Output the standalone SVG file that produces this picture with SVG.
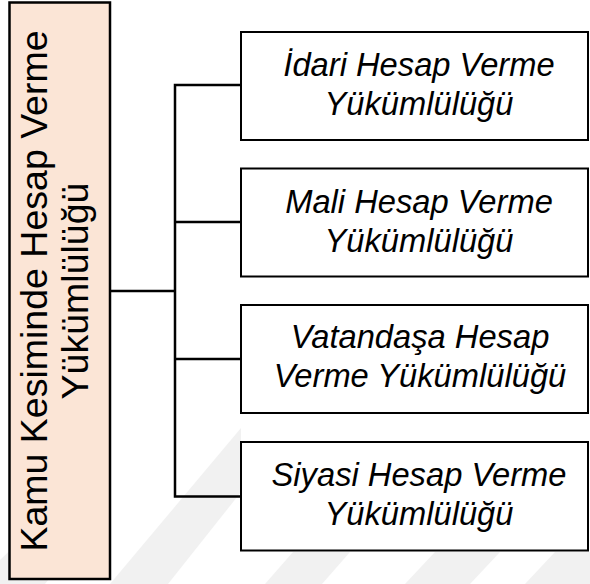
<svg xmlns="http://www.w3.org/2000/svg" width="590" height="584" viewBox="0 0 590 584">
<style>
.wm{fill:#f1f1f1;stroke:none}
.box{fill:#ffffff;stroke:#000000;stroke-width:2}
.main{fill:#fbe5d6;stroke:#000000;stroke-width:2.5}
.lbl{font-family:"Liberation Sans",Arial,sans-serif;font-style:italic;font-size:32.7px;fill:#000;text-anchor:middle}
.mlbl{font-family:"Liberation Sans",Arial,sans-serif;font-size:37.5px;fill:#000;text-anchor:middle}
.conn{fill:none;stroke:#000;stroke-width:2.5}
</style>
<rect width="590" height="584" fill="#ffffff"/>
<g id="watermark">
<polygon class="wm" points="0,584 45,584 110,500 110,455 0,560"/>
<polygon class="wm" points="110,584 168,584 241,492 241,428"/>
<polygon class="wm" points="265,584 322,584 350,552 293,552"/>
<polygon class="wm" points="405,584 470,584 500,552 435,552"/>
<polygon class="wm" points="525,584 590,584 590,552 555,552"/>
</g>
<g id="connectors">
<polyline class="conn" points="110,291 175,291"/>
<polyline class="conn" points="240,85 175,85 175,496.5 240,496.5"/>
<line class="conn" x1="175" y1="222" x2="240" y2="222"/>
<line class="conn" x1="175" y1="359" x2="240" y2="359"/>
</g>
<g id="main">
<rect class="main" x="9.5" y="2.5" width="100.5" height="576.5"/>
<g transform="translate(60,291) rotate(-90)">
<text class="mlbl" x="0" y="-13">Kamu Kesiminde Hesap Verme</text>
<text class="mlbl" x="0" y="28">Yükümlülüğü</text>
</g>
</g>
<g id="idari">
<rect class="box" x="241" y="32" width="347" height="108"/>
<text class="lbl" x="419" y="76">İdari Hesap Verme</text>
<text class="lbl" x="419" y="115">Yükümlülüğü</text>
</g>
<g id="mali">
<rect class="box" x="241" y="168.5" width="347" height="108"/>
<text class="lbl" x="419" y="212.5">Mali Hesap Verme</text>
<text class="lbl" x="419" y="251.5">Yükümlülüğü</text>
</g>
<g id="vatandas">
<rect class="box" x="241" y="305" width="347" height="108"/>
<text class="lbl" x="420" y="348">Vatandaşa Hesap</text>
<text class="lbl" x="420" y="387">Verme Yükümlülüğü</text>
</g>
<g id="siyasi">
<rect class="box" x="241" y="442" width="347" height="108.5"/>
<text class="lbl" x="419" y="486">Siyasi Hesap Verme</text>
<text class="lbl" x="419" y="525">Yükümlülüğü</text>
</g>
</svg>
